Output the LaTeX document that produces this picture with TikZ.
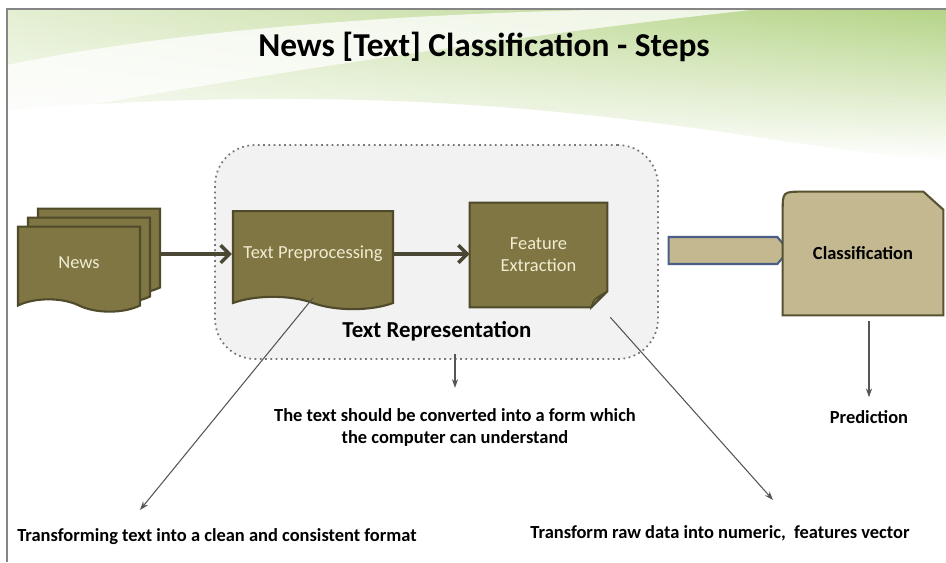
\documentclass[tikz,border=0pt]{standalone}
\usepackage{fontspec}
\setmainfont{Carlito}
\usepackage{xcolor}
\usetikzlibrary{arrows.meta, calc, positioning, shapes.symbols, fadings}

\definecolor{docfill}{HTML}{7F7644}
\definecolor{docline}{HTML}{4F4A2A}
\definecolor{docfold}{HTML}{A39A5E}
\definecolor{cream}{HTML}{F2ECD0}
\definecolor{tanfill}{HTML}{C4B891}
\definecolor{tanline}{HTML}{57522F}
\definecolor{chevline}{HTML}{4B5F86}
\definecolor{flowgray}{HTML}{4A4835}
\definecolor{notegray}{HTML}{555555}
\definecolor{boxfill}{HTML}{F2F2F2}
\definecolor{boxline}{HTML}{777777}
\definecolor{framegray}{HTML}{858585}
\definecolor{bgpale}{HTML}{E4EFD2}
\definecolor{bggreen}{HTML}{B5D487}

\begin{document}
\begin{tikzpicture}[x=0.02cm, y=-0.02cm,
  doc/.style={tape, tape bend top=none, tape bend bottom=out and in, tape bend height=7pt,
    draw=docline, line width=1.2pt, fill=docfill, text=cream, inner sep=0pt,
    font=\fontsize{10.5}{12.5}\selectfont},
  flow/.style={draw=flowgray, line width=2pt, -{Straight Barb[length=5pt,width=10pt]}},
  note/.style={draw=notegray, line width=0.6pt, -{Stealth[length=5pt,width=3.5pt]}},
  say/.style={font=\fontsize{10.5}{12.5}\selectfont\bfseries, align=center}]
\useasboundingbox (0,0) rectangle (946,562);
\fill[white] (0,0) rectangle (946,562);
\shade[left color=bgpale, right color=bggreen, path fading=south]
  (7,9) -- (946,9) -- (946,160) .. controls (760,150) and (520,70) .. (7,110) -- cycle;
\fill[white, opacity=0.75]
  (7,65) .. controls (200,25) and (450,12) .. (640,9) -- (760,9) .. controls (520,35) and (250,75) .. (7,120) -- cycle;
\draw[framegray, line width=1.2pt] (7,562) -- (7,9) -- (946,9);

\node[font=\fontsize{19}{22}\selectfont\bfseries] (title) at (484,47) {News [Text] Classification - Steps};

\node[draw=boxline, dotted, line width=1pt, fill=boxfill, rounded corners=0.8cm,
  minimum width=8.86cm, minimum height=4.28cm] (rep) at (436.5,252) {};

\node[doc, minimum width=2.44cm, minimum height=1.7cm] (news3) at (99,245) {};
\node[doc, minimum width=2.44cm, minimum height=1.7cm] (news2) at (89,254) {};
\node[doc, minimum width=2.44cm, minimum height=1.7cm] (news) at (79,263) {News};

\node[doc, minimum width=3.2cm, minimum height=1.96cm] (preproc) at (313,254) {Text Preprocessing};

\node[minimum width=2.74cm, minimum height=2.08cm] (feat) at (538.5,255) {};
\draw[docline, fill=docfill, line width=1.2pt] (feat.north west) -- (feat.north east)
  -- ($(feat.south east)+(0,-16)$) -- ($(feat.south east)+(-16,0)$) -- (feat.south west) -- cycle;
\draw[docline, fill=docfold, line width=0.8pt] ($(feat.south east)+(0,-16)$)
  .. controls ($(feat.south east)+(-8,-10)$) .. ($(feat.south east)+(-16,0)$)
  .. controls ($(feat.south east)+(-14,-8)$) .. cycle;
\node[text=cream, align=center, font=\fontsize{10.5}{12.5}\selectfont] at (feat.center) {Feature\\Extraction};

\node[font=\fontsize{13}{15}\selectfont\bfseries] (reptext) at (437,331) {Text Representation};

\node[signal, signal to=east, signal pointer angle=100, draw=chevline, fill=tanfill, line width=1.2pt,
  minimum width=2.4cm, minimum height=0.54cm, inner sep=0pt] (bridge) at (723,250.5) {};

\node[minimum width=3.2cm, minimum height=2.46cm] (cls) at (863,253.5) {};
\draw[tanline, fill=tanfill, line width=1.2pt] (cls.south west) -- ($(cls.north west)+(0,20)$)
  .. controls (cls.north west) .. ($(cls.north west)+(20,0)$)
  -- ($(cls.north east)+(-20,0)$) -- ($(cls.north east)+(0,18)$) -- (cls.south east) -- cycle;
\node[say] at (cls.center) {Classification};

\draw[flow] (news3.east |- preproc.west) -- (preproc.west);
\draw[flow] (preproc.east) -- (preproc.east -| feat.west);

\node[say] (understand) at (455,427) {The text should be converted into a form which\\the computer can understand};
\node[say] (pred) at (869,417) {Prediction};
\node[say] (clean) at (217,537) {Transforming text into a clean and consistent format};
\node[say] (vec) at (720,533) {Transform raw data into numeric, \ features vector};
\coordinate (cleantip) at (140,510);
\coordinate (vectip) at (773,500);

\draw[note, shorten <=4pt, shorten >=8pt] (reptext.south -| understand.north) -- (understand.north);
\draw[note, shorten <=3pt, shorten >=4pt] (cls.south -| pred.north) -- (pred.north);
\draw[note] (preproc.south) -- (cleantip);
\draw[note] ($(feat.south east)+(3,10)$) -- (vectip);
\end{tikzpicture}
\end{document}
